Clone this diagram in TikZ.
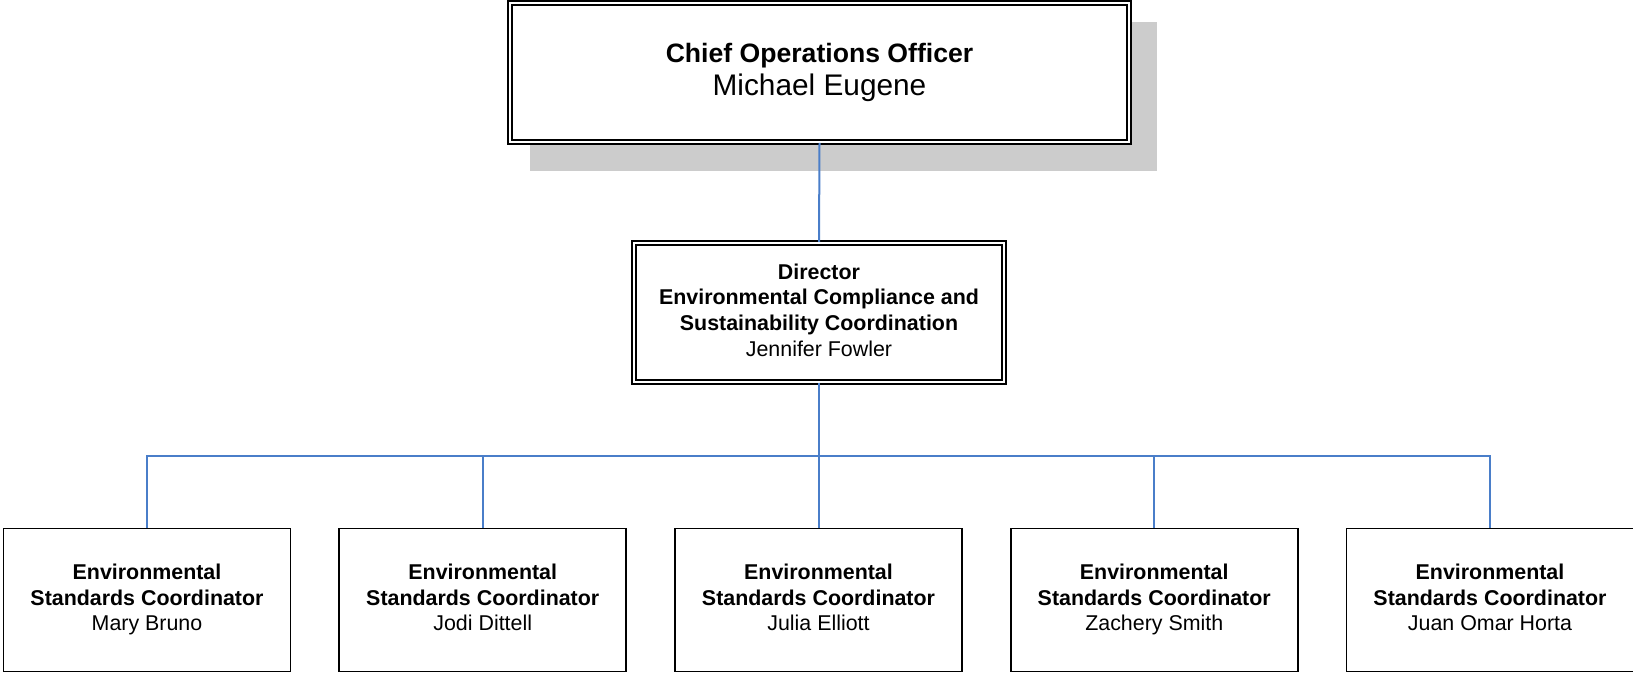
\documentclass[tikz,border=0pt]{standalone}
\usepackage{fontspec}
\setmainfont{Liberation Sans}
\usepackage{tikz}
\usetikzlibrary{backgrounds}
\definecolor{linkblue}{RGB}{74,126,201}
\definecolor{shadowgray}{RGB}{204,204,204}
\tikzset{
  topbox/.style={rectangle, draw=black, double, line width=1pt, double distance=1pt,
    fill=white, minimum width=309.5pt, minimum height=69.5pt, align=center, inner sep=0pt,
    font=\fontsize{14.9}{16.5}\selectfont},
  dirbox/.style={rectangle, draw=black, double, line width=1pt, double distance=1pt,
    fill=white, minimum width=185pt, minimum height=69.5pt, align=center, inner sep=0pt,
    font=\fontsize{10.7}{12.8}\selectfont},
  staffbox/.style={rectangle, draw=black, line width=0.8pt, fill=white,
    minimum width=143.5pt, minimum height=71.5pt, align=center, inner sep=0pt,
    font=\fontsize{10.7}{12.8}\selectfont},
  link/.style={draw=linkblue, line width=1pt}
}
\begin{document}
\begin{tikzpicture}[x=0.5pt, y=-0.5pt]
  \useasboundingbox (0,0) rectangle (1633,673);

  % Top of the chart
  \node[topbox] (coo) at (819.5,72.5)
    {{\fontsize{13.3}{16.5}\selectfont\bfseries\strut Chief Operations Officer}\\Michael Eugene\strut};
  \begin{scope}[on background layer]
    \fill[shadowgray] ([shift={(21,20)}]coo.north west) rectangle ([shift={(27,28)}]coo.south east);
  \end{scope}

  % Director
  \node[dirbox] (dir) at (819,312.5)
    {\strut\textbf{Director}\\\textbf{Environmental Compliance and}\\
     \textbf{Sustainability Coordination}\\Jennifer Fowler\strut};

  \draw[link] (coo.south) -- (dir.north);
  \coordinate (bus) at (819,456);

  % Coordinators
  \foreach \i/\nm in {1/Mary Bruno, 2/Jodi Dittell, 3/Julia Elliott,
                      4/Zachery Smith, 5/Juan Omar Horta} {
    \node[staffbox] (es\i) at ({147+335.75*(\i-1)},600)
      {\strut\textbf{Environmental}\\\textbf{Standards Coordinator}\\\nm\strut};
    \draw[link] (dir.south) -- (bus) -| (es\i.north);
  }
\end{tikzpicture}
\end{document}
